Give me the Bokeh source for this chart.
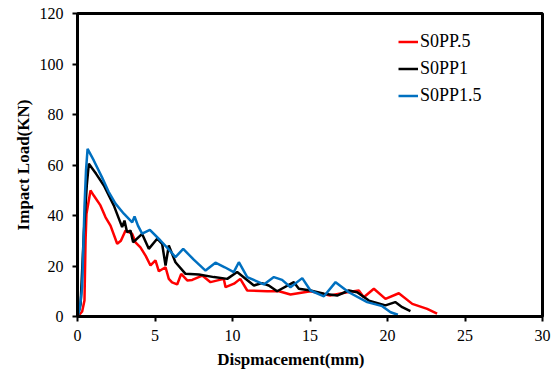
from bokeh.plotting import figure
from bokeh.models import Range1d, Legend, LegendItem, FixedTicker
from bokeh.embed import file_html
from bokeh.resources import INLINE

# S0PP.5 (red)
red_x = [0, 0.08, 0.3, 0.45, 0.52, 0.58, 0.84, 1.05, 1.48, 1.81, 2.13, 2.56, 2.8, 3.1, 3.53, 3.74,
         4.06, 4.4, 4.71, 5.03, 5.25, 5.68, 5.89, 6.1, 6.43, 6.69, 7.08, 7.4, 8.05, 8.58, 9.44, 9.55,
         10.1, 10.5, 10.95, 12.24, 13.0, 13.74, 15.03, 16.3, 17.4, 18.15, 18.47, 19.12, 19.87,
         20.73, 21.6, 22.56, 23.2]
red_y = [0, 0.4, 2, 6.3, 30, 40.7, 49.9, 47.9, 44, 39.3, 36, 28.8, 30, 34.1, 32.7, 29.4,
         27.4, 24, 20.2, 22.2, 17.9, 19.5, 14.9, 13.5, 12.7, 16.9, 14.3, 14.5, 16.2, 13.6, 14.9, 11.6,
         13, 14.9, 10.3, 10.0, 10.0, 8.7, 10.0, 8.3, 9.6, 10.3, 7.6, 11.0, 7.0,
         9.2, 5.0, 3.0, 1.1]

# S0PP1 (black)
blk_x = [0, 0.2, 0.41, 0.6, 0.73, 1.2, 1.7, 2.34, 2.88, 3.03, 3.2, 3.42, 3.59, 4.17, 4.6, 5.14,
         5.46, 5.68, 5.89, 6.32, 6.97, 7.83, 8.8, 9.66, 10.3, 11.38, 11.9, 12.34, 12.88, 13.96, 14.28,
         15.03, 15.9, 16.75, 17.5, 18.04, 18.8, 19.87, 20.5, 20.95, 21.48]
blk_y = [0, 5, 33, 52, 60.5, 56.5, 51.9, 44, 35.4, 38, 33.4, 34, 29.4, 32.7, 26.8, 30.8,
         28.8, 20.2, 28.1, 21.5, 16.9, 16.6, 15.6, 14.9, 17.6, 12.3, 13.2, 12.3, 10.0, 13.6, 11.0,
         10.3, 9.0, 8.3, 10.3, 9.6, 6.3, 4.4, 5.7, 3.7, 2.1]

# S0PP1.5 (blue)
blu_x = [0, 0.15, 0.3, 0.45, 0.55, 0.65, 1.05, 1.59, 2.0, 2.45, 2.99, 3.53, 3.68, 3.9, 4.17, 4.67,
         5.35, 5.9, 6.32, 6.82, 7.5, 8.26, 8.9, 9.5, 10.08, 10.41, 10.95, 12.02, 12.67, 13.2, 13.74,
         14.5, 15.03, 15.9, 16.65, 17.5, 18.69, 19.66, 20.2, 20.67]
blu_y = [0, 3, 11.6, 43.3, 58, 66.4, 61.8, 55, 49.5, 44.7, 40.7, 37.3, 39.6, 36, 32.8, 34.3,
         30.1, 26.5, 23.5, 26.8, 22.5, 18.2, 21.3, 19.5, 17.6, 21.5, 15.6, 12.7, 15.6, 14.5, 11.6,
         15.2, 10.3, 8.0, 13.6, 9.6, 5.7, 4.1, 1.7, 0.7]

series_names = ["S0PP.5", "S0PP1", "S0PP1.5"]
x_ticks = [0, 5, 10, 15, 20, 25, 30]
y_ticks = [0, 20, 40, 60, 80, 100, 120]

FONT = "'Liberation Serif', 'Times New Roman', serif"

p = figure(frame_width=465, frame_height=303, output_backend="svg", toolbar_location=None,
           x_range=Range1d(0, 30), y_range=Range1d(0, 120),
           min_border_left=77, min_border_top=13, min_border_right=11, min_border_bottom=55)
p.width = 553
p.height = 371

p.xgrid.visible = False
p.ygrid.visible = False
p.outline_line_color = "black"
p.outline_line_width = 3
p.background_fill_color = "white"
p.border_fill_color = "white"

for ax in (p.xaxis[0], p.yaxis[0]):
    ax.axis_line_width = 3
    ax.axis_line_color = "black"
    ax.major_tick_line_width = 2
    ax.major_tick_in = 0
    ax.major_tick_out = 5
    ax.minor_tick_line_color = None
    ax.major_label_text_font = FONT
    ax.major_label_text_font_size = "16px"
    ax.major_label_text_color = "black"
    ax.axis_label_text_font = FONT
    ax.axis_label_text_font_size = "17px"
    ax.axis_label_text_font_style = "bold"
    ax.axis_label_text_color = "black"

p.xaxis.ticker = FixedTicker(ticks=x_ticks)
p.yaxis.ticker = FixedTicker(ticks=y_ticks)
p.xaxis.axis_label = "Dispmacement(mm)" + "\u00a0" * 9
p.yaxis.axis_label = "Impact Load(KN)"
p.xaxis.major_label_standoff = 8
p.yaxis.major_label_standoff = 9
p.xaxis.axis_label_standoff = 6
p.yaxis.axis_label_standoff = 4

r1 = p.line(red_x, red_y, line_color="#FF0000", line_width=2.5)
r2 = p.line(blk_x, blk_y, line_color="#000000", line_width=2.5)
r3 = p.line(blu_x, blu_y, line_color="#0070C0", line_width=2.5)

legend = Legend(items=[LegendItem(label=series_names[0], renderers=[r1]),
                       LegendItem(label=series_names[1], renderers=[r2]),
                       LegendItem(label=series_names[2], renderers=[r3])],
                location=(321, 207), border_line_color=None, background_fill_alpha=0,
                padding=0, margin=0, spacing=0, glyph_width=20, glyph_height=27,
                label_height=27, label_standoff=2,
                label_text_font=FONT, label_text_font_size="18px", label_text_color="black")
p.add_layout(legend, "center")

open("out.html", "w").write(file_html(p, INLINE))
